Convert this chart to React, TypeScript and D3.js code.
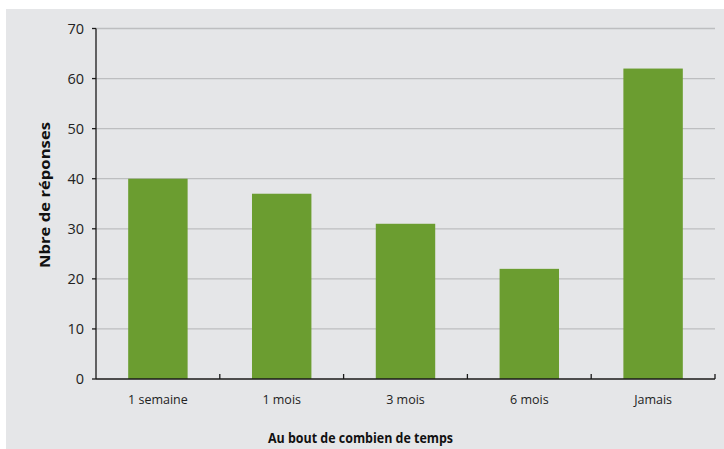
import React from 'react';
import * as d3 from 'd3';

const categories = ['1 semaine', '1 mois', '3 mois', '6 mois', 'Jamais'];
const values = [40, 37, 31, 22, 62];
const yTicks = [0, 10, 20, 30, 40, 50, 60, 70];

const W = 724;
const H = 449;
const left = 96;
const right = 715;
const top = 28.5;
const bottom = 379;
const font = "'Open Sans', 'Noto Sans', sans-serif";

export default function App() {
  const x = d3.scaleBand<string>().domain(categories).range([left, right]).paddingInner(0.52).paddingOuter(0.26);
  const band = d3.scaleBand<string>().domain(categories).range([left, right]);
  const y = d3.scaleLinear().domain([0, 70]).range([bottom, top]);

  return (
    <svg width={W} height={H} style={{ position: 'absolute', left: 0, top: 0 }}>
      <rect x={6} y={9} width={W - 6} height={H - 9} fill="#e5e6e8" />
      {yTicks.filter(t => t > 0).map(t => (
        <line key={t} x1={left} x2={right} y1={y(t)} y2={y(t)} stroke="#bdbec0" strokeWidth={1.3} />
      ))}
      {categories.map((c, i) => (
        <rect key={c} x={x(c)} y={y(values[i])} width={x.bandwidth()} height={bottom - y(values[i])} fill="#6b9d30" />
      ))}
      <line x1={left} x2={left} y1={top} y2={bottom} stroke="#1a1a1a" strokeWidth={1.3} />
      <line x1={left} x2={right} y1={bottom} y2={bottom} stroke="#1a1a1a" strokeWidth={1.3} />
      {yTicks.map(t => (
        <g key={t}>
          <line x1={left - 4} x2={left} y1={y(t)} y2={y(t)} stroke="#1a1a1a" strokeWidth={1.3} />
          <text x={84} y={y(t)} dy="0.35em" textAnchor="end" fontFamily={font} fontSize={14.5} fill="#222">{t}</text>
        </g>
      ))}
      {categories.map(c => (
        <g key={c}>
          <line x1={(band(c) as number) + band.bandwidth()} x2={(band(c) as number) + band.bandwidth()} y1={bottom} y2={bottom - 5} stroke="#1a1a1a" strokeWidth={1.3} />
          <text x={(band(c) as number) + band.bandwidth() / 2} y={404} textAnchor="middle" fontFamily={font} fontSize={12.5} fill="#222">{c}</text>
        </g>
      ))}
      <text x={360.5} y={443} textAnchor="middle" fontFamily={font} fontSize={15} fontWeight="bold" fill="#111" textLength={185} lengthAdjust="spacingAndGlyphs">Au bout de combien de temps</text>
      <text transform={`translate(50,195)rotate(-90)`} textAnchor="middle" fontFamily={font} fontSize={15} fontWeight="bold" fill="#111" textLength={146} lengthAdjust="spacingAndGlyphs">Nbre de réponses</text>
    </svg>
  );
}
